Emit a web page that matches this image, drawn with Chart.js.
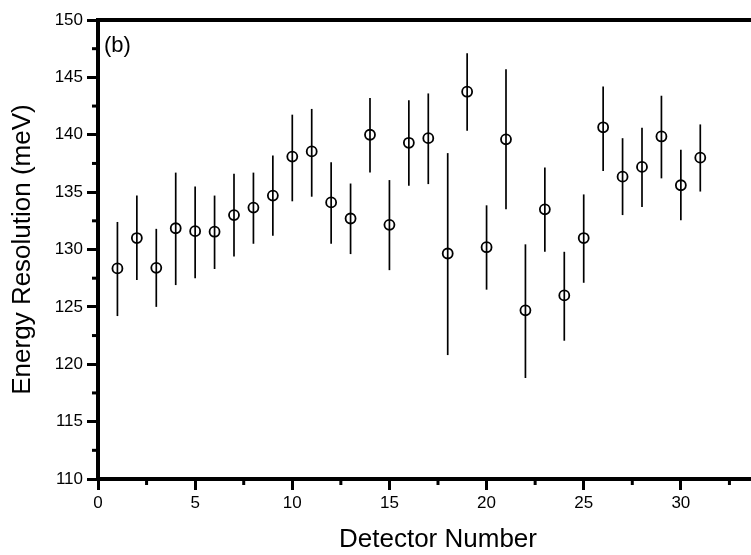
<!DOCTYPE html>
<html>
<head>
<meta charset="utf-8">
<script src="https://cdn.jsdelivr.net/npm/chart.js@4.4.0/dist/chart.umd.min.js"></script>
<style>
  html, body { margin: 0; padding: 0; background: #fff; overflow: hidden; width: 751px; height: 555px; }
  #wrap { width: 800px; height: 555px; position: relative; }
</style>
</head>
<body>
<div id="wrap"><canvas id="c" width="800" height="555"></canvas></div>
<script>
const detectors = [1,2,3,4,5,6,7,8,9,10,11,12,13,14,15,16,17,18,19,20,21,22,23,24,25,26,27,28,29,30,31];
const resolution = [128.35,131.0,128.4,131.85,131.6,131.55,133.0,133.65,134.7,138.1,138.55,134.1,132.7,140.0,132.15,139.3,139.7,129.65,143.75,130.2,139.6,124.7,133.5,126.0,131.0,140.65,136.35,137.2,139.85,135.6,138.0];
const errLow  = [124.2,127.35,125.0,126.9,127.5,128.3,129.4,130.5,131.2,134.2,134.6,130.5,129.6,136.7,128.2,135.55,135.7,120.8,140.35,126.5,133.5,118.8,129.8,122.05,127.1,136.85,133.0,133.7,136.2,132.55,135.05];
const errHigh = [132.4,134.7,131.8,136.7,135.5,134.7,136.6,136.7,138.2,141.75,142.25,137.6,135.75,143.2,136.05,143.0,143.6,138.4,147.1,133.85,145.7,130.45,137.15,129.8,134.8,144.2,139.7,140.6,143.4,138.7,140.9];
const xTicksMajor = [0,5,10,15,20,25,30,35];
const yTicksMajor = [110,115,120,125,130,135,140,145,150];
const panelLabel = '(b)';

const FONT = '"Liberation Sans", Arial, Helvetica, sans-serif';

const points = detectors.map((d, i) => ({ x: d, y: resolution[i], lo: errLow[i], hi: errHigh[i] }));

const framePlugin = {
  id: 'frame',
  beforeDatasetsDraw(chart) {
    const ctx = chart.ctx, xs = chart.scales.x, ys = chart.scales.y;
    ctx.save();
    ctx.strokeStyle = '#000';
    ctx.lineWidth = 1.7;
    points.forEach(p => {
      const px = xs.getPixelForValue(p.x);
      ctx.beginPath();
      ctx.moveTo(px, ys.getPixelForValue(p.lo));
      ctx.lineTo(px, ys.getPixelForValue(p.hi));
      ctx.stroke();
    });
    ctx.restore();
  },
  afterDraw(chart) {
    const ctx = chart.ctx, a = chart.chartArea, xs = chart.scales.x, ys = chart.scales.y;
    ctx.save();
    ctx.strokeStyle = '#000';
    ctx.lineWidth = 4;
    ctx.beginPath();
    ctx.moveTo(a.left - 2, a.top);
    ctx.lineTo(a.right, a.top);
    ctx.stroke();
    ctx.lineWidth = 3;
    for (let v = 2.5; v < 35; v += 5) {
      const px = xs.getPixelForValue(v);
      ctx.beginPath(); ctx.moveTo(px, a.bottom); ctx.lineTo(px, a.bottom + 6); ctx.stroke();
    }
    for (let v = 112.5; v < 150; v += 5) {
      const py = ys.getPixelForValue(v);
      ctx.beginPath(); ctx.moveTo(a.left, py); ctx.lineTo(a.left - 6, py); ctx.stroke();
    }
    ctx.fillStyle = '#000';
    ctx.font = '22px ' + FONT;
    ctx.textAlign = 'left';
    ctx.textBaseline = 'middle';
    ctx.fillText(panelLabel, a.left + 6, a.top + 26);
    ctx.restore();
  }
};

new Chart(document.getElementById('c'), {
  type: 'scatter',
  data: {
    datasets: [{
      data: points,
      pointStyle: 'circle',
      pointRadius: 5,
      pointHoverRadius: 5,
      borderColor: '#000',
      backgroundColor: 'rgba(0,0,0,0)',
      borderWidth: 1.8
    }]
  },
  options: {
    responsive: false,
    animation: false,
    events: [],
    layout: { padding: { top: 20, right: 22, bottom: 0, left: 0 } },
    plugins: { legend: { display: false }, tooltip: { enabled: false } },
    scales: {
      x: {
        type: 'linear', min: 0, max: 35,
        afterBuildTicks: s => { s.ticks = xTicksMajor.map(v => ({ value: v })); },
        afterFit: s => { s.height = 76; },
        grid: { drawOnChartArea: false, drawTicks: true, tickLength: 11, tickWidth: 3, tickColor: '#000' },
        border: { display: true, color: '#000', width: 4 },
        ticks: { color: '#000', font: { family: FONT, size: 17 }, padding: 3, maxRotation: 0, autoSkip: false },
        title: { display: true, text: 'Detector Number', color: '#000', font: { family: FONT, size: 26 }, padding: { top: 0, bottom: 0 } }
      },
      y: {
        type: 'linear', min: 110, max: 150,
        afterBuildTicks: s => { s.ticks = yTicksMajor.map(v => ({ value: v })); },
        afterFit: s => { s.width = 98; },
        grid: { drawOnChartArea: false, drawTicks: true, tickLength: 11, tickWidth: 3, tickColor: '#000' },
        border: { display: true, color: '#000', width: 4 },
        ticks: { color: '#000', font: { family: FONT, size: 17 }, padding: 4, autoSkip: false },
        title: { display: true, text: 'Energy Resolution (meV)', color: '#000', font: { family: FONT, size: 26 }, padding: { top: 7, bottom: 0 } }
      }
    }
  },
  plugins: [framePlugin]
});
</script>
</body>
</html>
